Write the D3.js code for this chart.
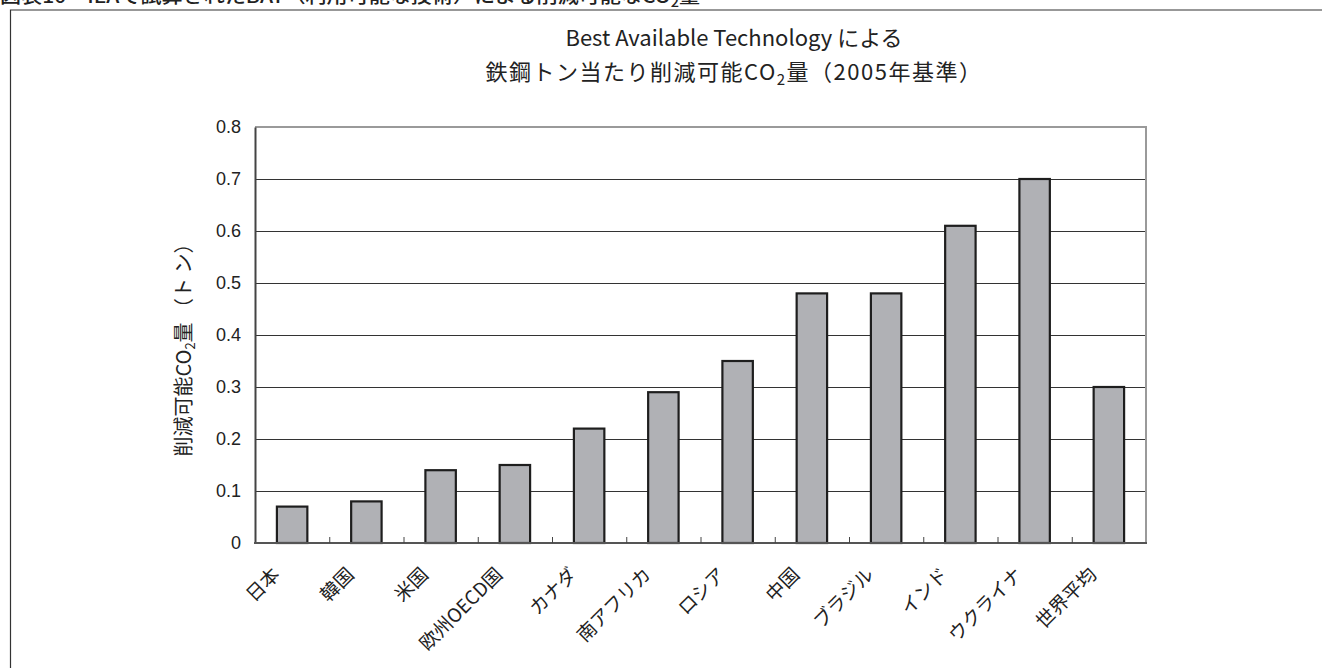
<!DOCTYPE html>
<html>
<head>
<meta charset="utf-8">
<script src="https://cdn.jsdelivr.net/npm/d3@7/dist/d3.min.js"></script>
<style>
  html, body { margin: 0; padding: 0; background: #fff; }
  svg { display: block; }
  text { font-family: "Liberation Sans", "Noto Sans CJK JP", sans-serif; fill: #222; }
  .jp { font-family: "Noto Sans CJK JP", "Liberation Sans", sans-serif; }
</style>
</head>
<body>
<svg id="chart" width="1322" height="668"></svg>
<script>
// Reduction potential per tonne of steel with Best Available Technology (2005 basis)
const categories = ["日本", "韓国", "米国", "欧州OECD国", "カナダ", "南アフリカ", "ロシア", "中国", "ブラジル", "インド", "ウクライナ", "世界平均"];
const values = [0.07, 0.08, 0.14, 0.15, 0.22, 0.29, 0.35, 0.48, 0.48, 0.61, 0.70, 0.30];
const yTicks = [0, 0.1, 0.2, 0.3, 0.4, 0.5, 0.6, 0.7, 0.8];
const yTickLabels = ["0", "0.1", "0.2", "0.3", "0.4", "0.5", "0.6", "0.7", "0.8"];

const svg = d3.select("#chart");
const W = 1322, H = 668;
const plot = { left: 255, right: 1146, top: 127, bottom: 543 };

// Figure caption (runs off the top edge of the page)
const cap = svg.append("text").attr("class", "jp")
  .attr("x", 0).attr("y", 3)
  .attr("font-size", 19).attr("font-weight", 500)
  .attr("textLength", 700).attr("lengthAdjust", "spacingAndGlyphs");
cap.append("tspan").text("図表10　IEAで試算されたBAT（利用可能な技術）による削減可能なCO");
cap.append("tspan").attr("font-size", 13).attr("dy", 4).text("2");
cap.append("tspan").attr("dy", -4).text("量");

// Outer frame
svg.append("path")
  .attr("d", `M${W + 5},10 H10.5 V${H + 5}`)
  .attr("fill", "none").attr("stroke", "#333").attr("stroke-width", 1.2);

const x = d3.scaleBand().domain(categories).range([plot.left, plot.right]).paddingInner(0).paddingOuter(0);
const y = d3.scaleLinear().domain([0, 0.8]).range([plot.bottom, plot.top]);

// Gridlines
svg.append("g").selectAll("line").data(yTicks.filter(d => d > 0 && d < 0.8)).join("line")
  .attr("x1", plot.left).attr("x2", plot.right)
  .attr("y1", d => Math.round(y(d)) + 0.5).attr("y2", d => Math.round(y(d)) + 0.5)
  .attr("stroke", "#333").attr("stroke-width", 1);

// Plot border (top/right gray)
svg.append("path")
  .attr("d", `M${plot.left},${plot.top} H${plot.right} V${plot.bottom}`)
  .attr("fill", "none").attr("stroke", "#9a9a9a").attr("stroke-width", 2);

// Bars
const bw = x.bandwidth() * 0.41;
svg.append("g").selectAll("rect").data(values).join("rect")
  .attr("x", (d, i) => x(categories[i]) + (x.bandwidth() - bw) / 2)
  .attr("y", d => y(d))
  .attr("width", bw)
  .attr("height", d => y(0) - y(d))
  .attr("fill", "#b0b1b5")
  .attr("stroke", "#1e1e1e").attr("stroke-width", 2.2);

// Y axis
const yAxis = d3.axisLeft(y).tickValues(yTicks).tickFormat((d, i) => yTickLabels[i]).tickSize(0).tickPadding(14);
const gy = svg.append("g").attr("transform", `translate(${plot.left},0)`).call(yAxis);
gy.select(".domain").attr("stroke", "#444").attr("stroke-width", 2);
gy.selectAll("text").attr("font-size", 18).attr("fill", "#222")
  .attr("font-family", "Liberation Sans, sans-serif");

// X axis with small inward ticks at band boundaries
const gx = svg.append("g").attr("transform", `translate(0,${plot.bottom})`);
gx.append("line").attr("x1", plot.left - 1).attr("x2", plot.right + 1)
  .attr("y1", 0).attr("y2", 0).attr("stroke", "#555").attr("stroke-width", 2);
gx.selectAll("line.tick").data(categories.slice(1)).join("line").attr("class", "tick")
  .attr("x1", d => x(d) + 0.5).attr("x2", d => x(d) + 0.5)
  .attr("y1", 0).attr("y2", -6).attr("stroke", "#444").attr("stroke-width", 1);

gx.selectAll("text.lbl").data(categories).join("text").attr("class", "lbl jp")
  .attr("transform", d => `translate(${x(d) + x.bandwidth() / 2 - 22},${22}) rotate(-45)`)
  .attr("text-anchor", "end")
  .attr("dy", "0.8em")
  .attr("font-size", 19)
  .text(d => d);

// Y axis title
const yt = svg.append("text").attr("class", "jp")
  .attr("transform", `translate(191,345) rotate(-90)`)
  .attr("text-anchor", "middle").attr("font-size", 20);
yt.append("tspan").text("削減可能CO");
yt.append("tspan").attr("font-size", 13).attr("dy", 4).text("2");
yt.append("tspan").attr("dy", -4).text("量 （ト ン）");

// Chart title
const title = svg.append("g").attr("class", "jp");
title.append("text").attr("class", "jp")
  .attr("x", 734).attr("y", 46).attr("text-anchor", "middle").attr("font-size", 22)
  .text("Best Available Technology による");
const t2 = title.append("text").attr("class", "jp")
  .attr("x", 734).attr("y", 80).attr("text-anchor", "middle").attr("font-size", 22)
  .attr("letter-spacing", 1.5);
t2.append("tspan").text("鉄鋼トン当たり削減可能CO");
t2.append("tspan").attr("font-size", 15).attr("dy", 5).text("2");
t2.append("tspan").attr("dy", -5).text("量（2005年基準）");
</script>
</body>
</html>
